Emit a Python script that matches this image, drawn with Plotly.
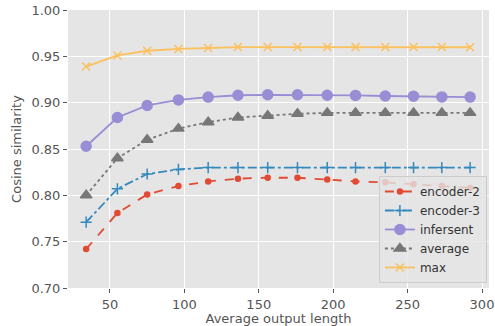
import plotly.graph_objects as go

lengths = [34, 55, 75, 96, 116, 136, 156, 176, 196, 215, 235, 254, 273, 292]
encoder2 = [0.742, 0.781, 0.801, 0.810, 0.815, 0.818, 0.819, 0.819, 0.817, 0.815, 0.814, 0.812, 0.810, 0.808]
encoder3 = [0.771, 0.807, 0.823, 0.828, 0.830, 0.830, 0.830, 0.830, 0.830, 0.830, 0.830, 0.830, 0.830, 0.830]
infersent = [0.853, 0.884, 0.897, 0.903, 0.906, 0.908, 0.9085, 0.9085, 0.908, 0.9078, 0.9072, 0.907, 0.9062, 0.906]
average = [0.800, 0.840, 0.860, 0.872, 0.879, 0.884, 0.886, 0.888, 0.889, 0.889, 0.889, 0.889, 0.889, 0.889]
maxv = [0.939, 0.951, 0.956, 0.958, 0.959, 0.960, 0.960, 0.960, 0.960, 0.960, 0.960, 0.960, 0.960, 0.9598]

series = [
    ("encoder-2", encoder2, "#E24A33", "dash", "circle", 5),
    ("encoder-3", encoder3, "#348ABD", "dashdot", "cross-thin-open", 8),
    ("infersent", infersent, "#988ED5", "solid", "circle", 10),
    ("average", average, "#777777", "dot", "triangle-up", 10),
    ("max", maxv, "#FBC15E", "solid", "x-thin-open", 8),
]

fig = go.Figure()
for name, vals, color, dash, sym, size in series:
    fig.add_trace(go.Scatter(
        x=lengths, y=vals, name=name, mode="lines+markers",
        line=dict(color=color, dash=dash, width=1.8),
        marker=dict(symbol=sym, size=size, color=color,
                    line=dict(color=color, width=1.5)),
    ))

fig.update_layout(
    width=495, height=326,
    margin=dict(l=68, r=6, t=10, b=38),
    paper_bgcolor="white", plot_bgcolor="#E5E5E5",
    font=dict(family="DejaVu Sans", size=13, color="#555555"),
    legend=dict(x=0.995, xanchor="right", y=0.018, yanchor="bottom",
                bgcolor="rgba(229,229,229,0.8)", bordercolor="#CCCCCC", borderwidth=1,
                font=dict(size=12, color="#333333"), tracegroupgap=0),
    showlegend=True,
)
fig.update_xaxes(range=[21.8, 304.7], tickvals=[50, 100, 150, 200, 250, 300],
                 automargin=False,
                 showgrid=True, gridcolor="white", gridwidth=1, zeroline=False,
                 ticks="outside", ticklen=4, tickcolor="#555555",
                 title=dict(text="Average output length", standoff=4,
                            font=dict(size=13, color="#555555")))
fig.update_yaxes(range=[0.70, 1.00], tickvals=[0.70, 0.75, 0.80, 0.85, 0.90, 0.95, 1.00],
                 tickformat=".2f", automargin=False,
                 showgrid=True, gridcolor="white", gridwidth=1, zeroline=False,
                 ticks="outside", ticklen=4, tickcolor="#555555",
                 title=dict(text="Cosine similarity", standoff=6,
                            font=dict(size=13, color="#555555")))

fig.write_html("out.html")
